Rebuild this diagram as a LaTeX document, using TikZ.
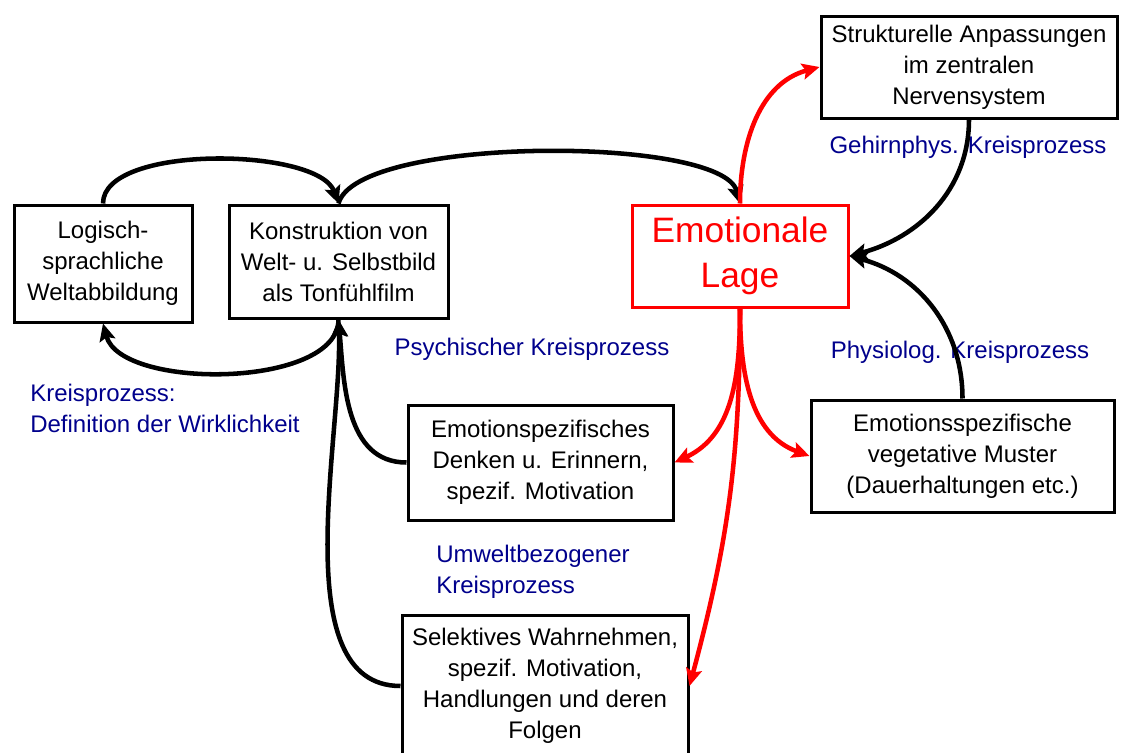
\documentclass[tikz,border=0pt]{standalone}
\usepackage{fontspec}
\setmainfont{Liberation Sans}
\usetikzlibrary{arrows.meta}
\definecolor{kreisblau}{RGB}{0,0,140}
\definecolor{lagerot}{RGB}{255,0,0}

\begin{document}
\begin{tikzpicture}[x=0.75pt, y=0.75pt, >={Stealth[length=13pt,width=12pt,inset=2.5pt]},
	kasten/.style={draw, line width=2.25pt, align=center, inner sep=0pt, font=\fontsize{18}{23.25}\selectfont},
	lage/.style={kasten, draw=lagerot, text=lagerot, font=\fontsize{26.5}{34}\selectfont},
	pfeil/.style={->, line width=3.4pt},
	rotpfeil/.style={pfeil, draw=lagerot},
	kreis/.style={text=kreisblau, font=\fontsize{18}{23.25}\selectfont, align=left, inner sep=0pt}]
	\useasboundingbox (0,0) rectangle (1122,-753);
	\clip (0,0) rectangle (1122,-753);
	% Kaesten
	\node[kasten, minimum width=133.5pt, minimum height=87.75pt] (logik) at (103,-263.5) {Logisch-\\sprachliche\\Weltabbildung};
	\node[kasten, minimum width=164.25pt, minimum height=84.75pt] (konstr) at (338.5,-261.5) {Konstruktion von\\Welt- u. Selbstbild\\als Tonfühlfilm};
	\node[lage, minimum width=162pt, minimum height=76.5pt] (emo) at (740,-256) {Emotionale\\Lage};
	\node[kasten, minimum width=222pt, minimum height=76.5pt] (struk) at (969,-67) {Strukturelle Anpassungen\\im zentralen\\Nervensystem};
	\node[kasten, minimum width=198.75pt, minimum height=86.25pt] (denken) at (540.5,-462.5) {Emotionspezifisches\\Denken u. Erinnern,\\spezif. Motivation};
	\node[kasten, minimum width=227.25pt, minimum height=84pt] (veget) at (962.5,-456) {Emotionsspezifische\\vegetative Muster\\(Dauerhaltungen etc.)};
	\node[kasten, minimum width=214.5pt, minimum height=106.5pt] (selekt) at (545,-686) {Selektives Wahrnehmen,\\spezif. Motivation,\\Handlungen und deren\\Folgen};
	% Beschriftungen
	\node[kreis] (gehirn) at (968,-147) {Gehirnphys. Kreisprozess};
	\node[kreis] (psych) at (532,-349) {Psychischer Kreisprozess};
	\node[kreis] (physio) at (960,-352) {Physiolog. Kreisprozess};
	\node[kreis, anchor=west] (wirkl) at (30,-408.5) {Kreisprozess:\\Definition der Wirklichkeit};
	\node[kreis, anchor=west] (umwelt) at (436,-571.5) {Umweltbezogener\\Kreisprozess};
	% Kreisprozesse
	\draw[pfeil] (logik.north) to[out=90, in=110, looseness=0.65] (konstr.north);
	\draw[pfeil] (konstr.north) to[out=75, in=105, looseness=0.45] (emo.north);
	\draw[pfeil] (konstr.south) to[out=-90, in=-75, looseness=0.75] (logik.south);
	\draw[pfeil] (denken.west) to[out=180, in=-85] (konstr.south);
	\draw[pfeil] (selekt.west) to[out=180, in=-88, looseness=0.8] (konstr.south);
	\draw[pfeil] (struk.south) to[out=-90, in=15] (emo.east);
	\draw[pfeil] (veget.north) to[out=90, in=-15] (emo.east);
	% Emotionale Lage
	\draw[rotpfeil] (emo.north) to[out=90, in=195] (struk.west);
	\draw[rotpfeil] (emo.south) to[out=-90, in=25] (denken.east);
	\draw[rotpfeil] (emo.south) to[out=-90, in=160] (veget.west);
	\draw[rotpfeil] (emo.south) to[out=-90, in=75] (selekt.east);
\end{tikzpicture}
\end{document}
